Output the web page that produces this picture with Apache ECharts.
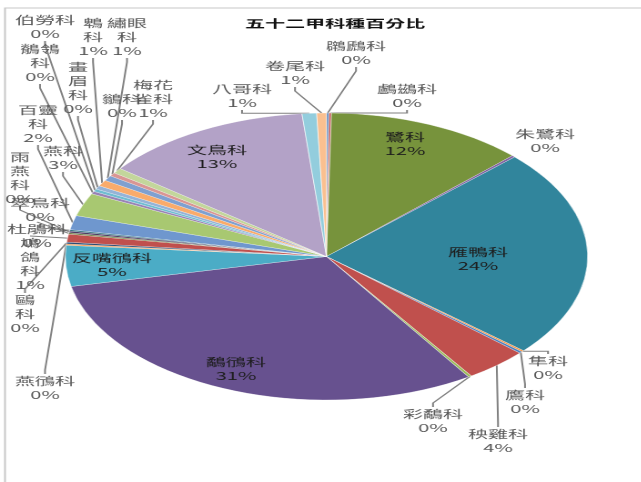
<!DOCTYPE html>
<html><head><meta charset="utf-8">
<script src="https://cdn.jsdelivr.net/npm/echarts@6.0.0/dist/echarts.min.js"></script>
<style>
html,body{margin:0;padding:0;background:#fff;}
#wrap{width:641px;height:482px;overflow:hidden;position:relative;background:#fff;}
#c{position:absolute;left:0;top:0;height:482px;transform-origin:0 0;}
</style>
</head><body><div id="wrap"><div id="c"></div></div>
<script>
// ---- data ----
const TITLE = '五十二甲科種百分比';
const families = ['鸊鷉科','鸕鷀科','鷺科','朱鷺科','雁鴨科','隼科','鷹科','秧雞科','彩鷸科','鷸鴴科',
  '反嘴鴴科','燕鴴科','鷗科','鳩鴿科','杜鵑科','雨燕科','翠鳥科','百靈科','燕科','鶺鴒科',
  '伯勞科','畫眉科','鵯科','繡眼科','鶲科','梅花雀科','文鳥科','八哥科','卷尾科'];
const shares = [0.15,0.15,12.3,0.2,23.6,0.15,0.2,3.9,0.2,30.8,
  4.6,0.15,0.2,0.9,0.15,0.2,0.15,1.6,2.6,0.3,
  0.3,0.4,0.7,0.6,0.4,0.6,13.0,0.9,0.6];

// ---- styles / layout ----
const SX = 1.82;                 // the reference picture is stretched horizontally
const W = 641 / SX;
const COLORS = ['#4F81BD','#C0504D','#77933C','#8064A2','#31859C','#F79646','#4F81BD','#C0504D','#9BBB59','#67518F',
  '#4BACC6','#F79646','#2C4D75','#C0504D','#5F7530','#4D3B62','#276A7C','#6F97CE','#A8C871','#9983B5',
  '#6FBDD1','#95B3D7','#F9AB6B','#7FA0D0','#D99694','#C3D69B','#B3A2C7','#93CDDD','#FAC090'];
const WRAP = {'鶺鴒科':'鶺鴒\n科','鷗科':'鷗\n科','鳩鴿科':'鳩\n鴿\n科','雨燕科':'雨\n燕\n科','畫眉科':'畫\n眉\n科',
  '鵯科':'鵯\n科','繡眼科':'繡眼\n科','梅花雀科':'梅花\n雀科','百靈科':'百靈\n科'};
// label block centres as placed in the reference (page pixels)
const LABEL_AT = {
  '鸊鷉科':[356,53],'鸕鷀科':[407,96],'鷺科':[405,144],'朱鷺科':[545,141],'雁鴨科':[478,259],
  '隼科':[548,368],'鷹科':[525,402],'秧雞科':[498,441],'彩鷸科':[433,421],'鷸鴴科':[236,369],
  '反嘴鴴科':[112,265],'燕鴴科':[45,388],'鷗科':[25,314],'鳩鴿科':[30,264],'杜鵑科':[37,236],
  '雨燕科':[20,178],'翠鳥科':[40,210],'百靈科':[38,124],'燕科':[63,158],'鶺鴒科':[40,63],
  '伯勞科':[45,27],'畫眉科':[78,88],'鵯科':[93,37],'繡眼科':[127,37],'鶲科':[122,106],
  '梅花雀科':[153,99],'文鳥科':[217,157],'八哥科':[242,96],'卷尾科':[295,73]};
const INSIDE = new Set(['鷺科','雁鴨科','鷸鴴科','反嘴鴴科','文鳥科']);
const NO_LINE = new Set(['朱鷺科','鷺科','雁鴨科','鷸鴴科','反嘴鴴科','文鳥科']);
const FONT = '"Noto Sans CJK TC","Noto Sans CJK SC",sans-serif';

const total = shares.reduce((a, b) => a + b, 0);
const dom = document.getElementById('c');
dom.style.width = W + 'px';
dom.style.transform = 'scaleX(' + SX + ')';
const chart = echarts.init(dom, null, {renderer: 'canvas', devicePixelRatio: 2});

const data = families.map((name, i) => ({
  name: name,
  value: shares[i],
  itemStyle: {color: COLORS[i]},
  label: INSIDE.has(name) ? {color: '#1e1e1e'} : {},
  labelLine: {show: !NO_LINE.has(name)}
}));

chart.setOption({
  animation: false,
  backgroundColor: '#ffffff',
  title: {
    text: TITLE, left: 326 / SX, top: 13, textAlign: 'center',
    textStyle: {fontFamily: FONT, fontSize: 11, fontWeight: 'bold', color: '#111'}
  },
  graphic: [{
    type: 'rect', silent: true,
    shape: {x: 5 / SX, y: 8, width: 660 / SX, height: 500},
    style: {fill: 'none', stroke: '#c8c8c8', lineWidth: 1}
  }],
  series: [{
    type: 'pie',
    center: [326.5 / SX, 256.5],
    radius: [0, 143.5],
    startAngle: 90,
    clockwise: true,
    avoidLabelOverlap: false,
    minShowLabelAngle: 0,
    itemStyle: {borderColor: 'rgba(255,255,255,0.6)', borderWidth: 0.5},
    label: {
      show: true, position: 'outside', overflow: 'none', width: 200,
      fontFamily: FONT, fontSize: 11, lineHeight: 14, color: '#595959',
      formatter: p => (WRAP[p.name] || p.name) + '\n' + Math.round(p.value / total * 100) + '%'
    },
    labelLine: {show: true, length: 8, length2: 4, smooth: false,
      lineStyle: {color: '#808080', width: 1}},
    labelLayout: function (params) {
      const name = families[params.dataIndex];
      const at = LABEL_AT[name];
      if (!at) return {};
      return {x: at[0] / SX, y: at[1], align: 'center', verticalAlign: 'middle'};
    },
    emphasis: {disabled: true},
    data: data
  }]
});
</script>
</body></html>
